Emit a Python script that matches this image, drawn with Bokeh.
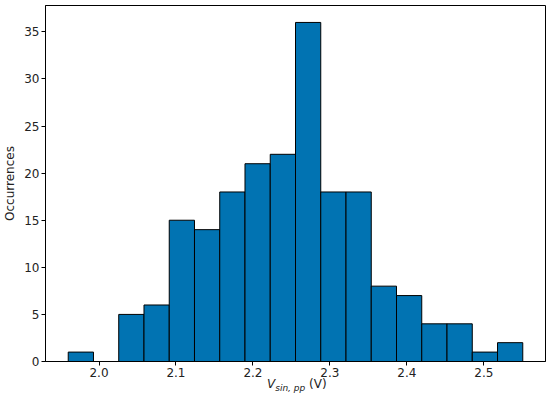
import numpy as np
from bokeh.plotting import figure
from bokeh.models import ColumnDataSource, Range1d, FixedTicker, Div
from bokeh.layouts import column
from bokeh.embed import file_html
from bokeh.resources import INLINE

# ---- data ----
bin_min = 1.960
bin_max = 2.5506
counts = [1, 0, 5, 6, 15, 14, 18, 21, 22, 36, 18, 18, 8, 7, 4, 4, 1, 2]
x_ticks = [2.0, 2.1, 2.2, 2.3, 2.4, 2.5]
y_ticks = [0, 5, 10, 15, 20, 25, 30, 35]
y_label = "Occurrences"

edges = np.linspace(bin_min, bin_max, len(counts) + 1)
src = ColumnDataSource(dict(left=edges[:-1], right=edges[1:], top=counts,
                            bottom=[0] * len(counts)))

span = bin_max - bin_min
x0, x1 = bin_min - 0.05 * span, bin_max + 0.05 * span
ytop = max(counts) * 1.05

FONT = "DejaVu Sans"
p = figure(frame_width=500, frame_height=356, output_backend="svg",
           toolbar_location=None, x_range=Range1d(x0, x1), y_range=Range1d(0, ytop),
           min_border_left=0, min_border_top=5, min_border_right=5, min_border_bottom=0)
p.quad(left="left", right="right", top="top", bottom="bottom", source=src,
       fill_color="#0173b2", line_color="black", line_width=1)

p.grid.visible = False
p.outline_line_color = "black"
p.outline_line_alpha = 1
p.outline_line_width = 1

for ax in (p.xaxis[0], p.yaxis[0]):
    ax.major_label_text_font = FONT
    ax.major_label_text_font_size = "12px"
    ax.major_label_text_color = "#222222"
    ax.axis_line_color = "black"
    ax.major_tick_line_color = "black"
    ax.major_tick_out = 4
    ax.major_tick_in = 0
    ax.minor_tick_line_color = None
    ax.major_label_standoff = 2

p.xaxis.ticker = FixedTicker(ticks=x_ticks)
p.xaxis.major_label_overrides = {t: f"{t:.1f}" for t in x_ticks}
p.yaxis.ticker = FixedTicker(ticks=y_ticks)
p.yaxis.axis_label = y_label
p.yaxis.axis_label_text_font = FONT
p.yaxis.axis_label_text_font_size = "12px"
p.yaxis.axis_label_text_font_style = "normal"
p.yaxis.axis_label_text_color = "#222222"
p.yaxis.axis_label_standoff = 4

xlabel = Div(
    text='<i>V</i><sub style="font-size:9px;font-style:italic">sin, pp</sub>&nbsp;(V)',
    margin=(-2, 0, 0, 267), width=120, height=14,
    styles={"font-family": FONT, "font-size": "12px", "color": "#222222",
            "line-height": "14px", "white-space": "nowrap"})

layout = column(p, xlabel, spacing=0)
open("out.html", "w").write(file_html(layout, INLINE))
